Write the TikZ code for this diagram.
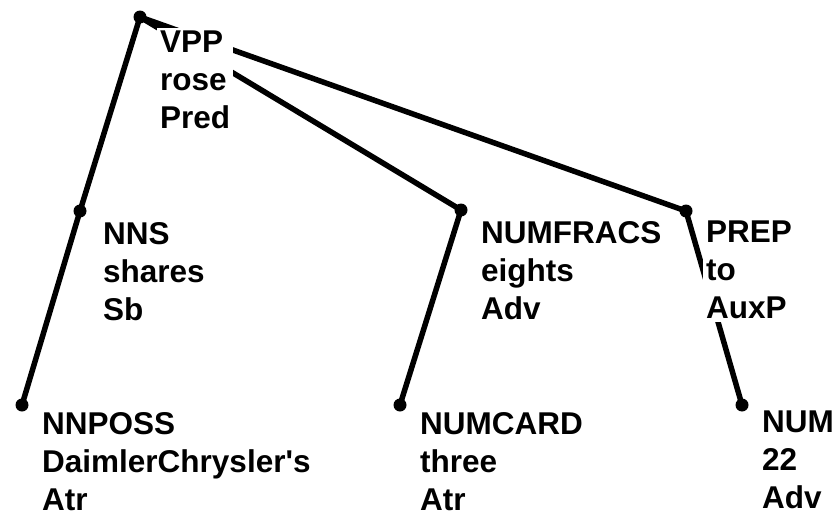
\documentclass[tikz,border=0pt]{standalone}
\usepackage{fontspec}
\setmainfont{Liberation Sans}[Ligatures=TeXOff]
\begin{document}
\begin{tikzpicture}[x=1pt,y=-1pt,
  edge/.style={line width=5.5pt,line cap=round},
  dot/.style={circle,fill=black,inner sep=0pt,minimum size=13pt},
  lab/.style={anchor=north west,align=left,fill=white,inner sep=3pt,
    font=\fontsize{31.5}{38}\selectfont\bfseries}]
\useasboundingbox[fill=white] (0,0) rectangle (839,522);
% dots
\node[dot] (r) at (140,17) {};
\node[dot] (nns) at (80,211) {};
\node[dot] (numfr) at (461,210) {};
\node[dot] (prep) at (686,211) {};
\node[dot] (nnposs) at (22,405) {};
\node[dot] (numcard) at (400,405) {};
\node[dot] (num) at (742,405) {};
% edges
\draw[edge] (r.center) -- (nns.center);
\draw[edge] (nns.center) -- (nnposs.center);
\draw[edge] (r.center) -- (numfr.center);
\draw[edge] (r.center) -- (prep.center);
\draw[edge] (numfr.center) -- (numcard.center);
\draw[edge] (prep.center) -- (num.center);
% labels
\node[lab] (lr) at (157,27.4) {VPP\\rose\\Pred};
\node[lab] (lnns) at (100,219.4) {NNS\\shares\\Sb};
\node[lab] (lnumfr) at (478,218) {NUMFRACS\\eights\\Adv};
\node[lab] (lprep) at (703,218) {PREP\\to\\AuxP};
\node[lab] (lnnposs) at (39,409.4) {NNPOSS\\DaimlerChrysler's\\Atr};
\node[lab] (lnumcard) at (417,409.4) {NUMCARD\\three\\Atr};
\node[lab] (lnum) at (759,408) {NUM\\22\\Adv};
\end{tikzpicture}
\end{document}
